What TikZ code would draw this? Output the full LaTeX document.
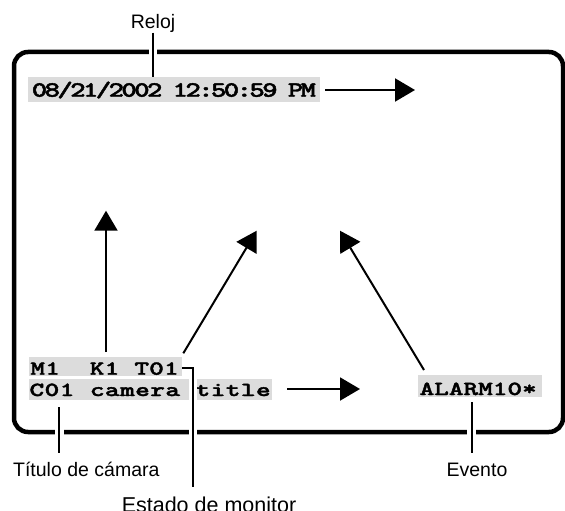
\documentclass[tikz,border=0pt]{standalone}
\usepackage{fontspec}
\usepackage{graphicx}
\setmainfont{Liberation Sans}
\newfontfamily\scrfont{lmmonolt10-bold.otf}[FakeBold=1.6]
\usetikzlibrary{arrows.meta}
\definecolor{scrgray}{RGB}{220,220,220}
\ExplSyntaxOn
\NewDocumentCommand\cells{mmm}{\str_map_inline:nn{#3}{\makebox[#1][c]{\scalebox{#2}[1]{##1}}}}
\ExplSyntaxOff
\begin{document}
\begin{tikzpicture}[x=1pt,y=-1pt,
  lbl/.style={font=\fontsize{19.5}{21}\selectfont, inner sep=0pt, anchor=base},
  scr/.style={font=\scrfont\fontsize{20}{21}\selectfont, inner sep=0pt, anchor=base west},
  clk/.style={font=\scrfont\fontsize{21.8}{22}\selectfont, inner sep=0pt, anchor=base west},
  hl/.style={fill=scrgray, draw=none, inner sep=0pt, anchor=north west},
  framebox/.style={line width=4.5pt, rounded corners=14pt},
  lead/.style={line width=1.8pt},
  halo/.style={line width=8.5pt, white},
  arr/.style={line width=2pt, -{Triangle[length=20pt,width=23pt]}}]
\useasboundingbox (0,0) rectangle (565,511);
% screen frame
\draw[framebox] (14,52) rectangle (563,432);
% highlighted boxes
\node[hl, minimum width=292pt, minimum height=24.4pt] (clockbox) at (28,77.3) {};
\node[hl, minimum width=153pt, minimum height=19.3pt] (m1box) at (29,356.7) {};
\node[hl, minimum width=243pt, minimum height=21pt] (c01box) at (29,379) {};
\node[hl, minimum width=124pt, minimum height=22pt] (alarmbox) at (418,375) {};
% screen texts
\node[clk] (clock) at (32.9,96.7) {\cells{12.8pt}{1.35}{08/21/2002 12:50:59 PM}};
\node[scr] (m1) at (30.1,374.7) {\cells{14.85pt}{1.4}{M1 }\makebox[14.85pt]{}\cells{14.85pt}{1.4}{K1 T01}};
\node[scr] (c01) at (29.1,396) {\cells{15.1pt}{1.4}{C01 camera title}};
\node[scr] (alarm) at (419.4,395) {\cells{14.64pt}{1.4}{ALARM10*}};
% labels
\node[lbl] (reloj) at (153,28.3) {Reloj};
\node[lbl] (titulo) at (86.3,476.7) {Título de cámara};
\node[lbl] (evento) at (477,476.7) {Evento};
\node[lbl, font=\fontsize{21.5}{23}\selectfont] (estado) at (209,512.5) {Estado de monitor};
% coordinates
\coordinate (tA) at (59.3,407);
\coordinate (tB) at (59.3,453);
\coordinate (eA) at (471.7,402);
\coordinate (eB) at (471.7,453);
\coordinate (mA) at (193,368);
\coordinate (mB) at (193,487);
\coordinate (rB) at (153,77.3);
% leader lines with white halos
\draw[halo] (reloj.south) -- (rB);
\draw[halo] (m1box.east |- mA) -- (mA) -- (mB);
\draw[halo] (tA) -- (tB);
\draw[halo] (eA) -- (eB);
\draw[lead] (reloj.south) -- (rB);
\draw[lead] (m1box.east |- mA) -- (mA) -- (mB);
\draw[lead] (tA) -- (tB);
\draw[lead] (eA) -- (eB);
% arrows
\coordinate (a1s) at (325,90);   \coordinate (a1e) at (415,90);
\coordinate (a2s) at (106,352);  \coordinate (a2e) at (106,210.7);
\coordinate (a3s) at (183.3,353.3); \coordinate (a3e) at (256.7,230.7);
\coordinate (a4s) at (424,370);  \coordinate (a4e) at (340,230.7);
\coordinate (a5s) at (287,389);  \coordinate (a5e) at (360,389);
\draw[arr] (a1s) -- (a1e);
\draw[arr] (a2s) -- (a2e);
\draw[arr] (a3s) -- (a3e);
\draw[arr] (a4s) -- (a4e);
\draw[arr] (a5s) -- (a5e);
\end{tikzpicture}
\end{document}
